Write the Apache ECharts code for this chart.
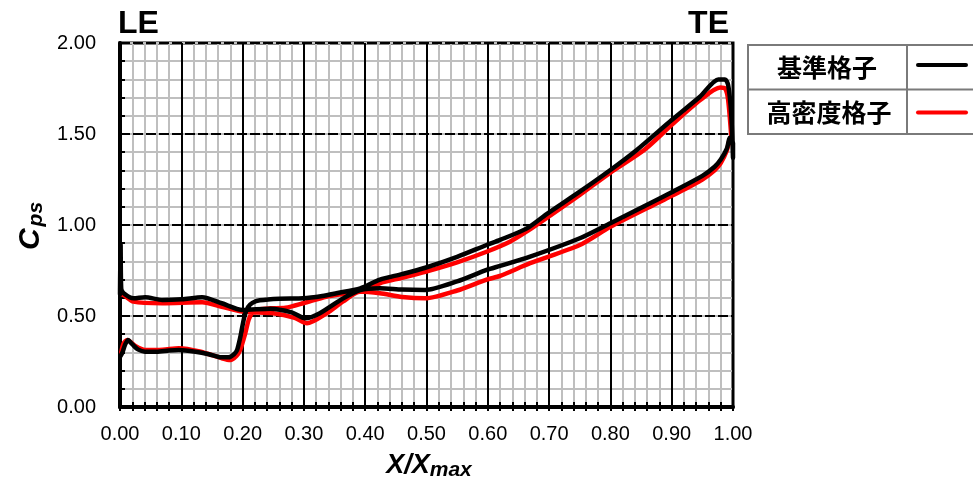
<!DOCTYPE html>
<html><head><meta charset="utf-8">
<script src="https://cdn.jsdelivr.net/npm/echarts@6/dist/echarts.min.js"></script>
<style>html,body{margin:0;padding:0;background:#fff}#c{width:973px;height:489px}</style>
</head><body><div id="c"></div>
<script>
// 基準格子 (baseline grid) — closed loop, from LE lower branch round TE and back
const baseX = [0.001,0.004,0.008,0.013,0.02,0.03,0.041,0.06,0.08,0.096,0.123,0.145,0.161,0.177,0.186,0.191,0.196,0.2,0.204,0.209,0.216,0.228,0.26,0.299,0.33,0.353,0.392,0.424,0.46,0.498,0.55,0.598,0.62,0.663,0.696,0.75,0.8,0.843,0.9,0.946,0.976,0.987,0.992,0.996,0.998,1.0,1.0,0.995,0.99,0.98,0.97,0.95,0.9,0.881,0.8,0.75,0.669,0.62,0.598,0.55,0.498,0.46,0.424,0.392,0.364,0.326,0.302,0.28,0.245,0.2,0.166,0.134,0.101,0.069,0.041,0.022,0.006,0.002,0.001,0.0];
const baseCp = [0.28,0.30,0.34,0.368,0.345,0.315,0.304,0.303,0.31,0.313,0.304,0.29,0.275,0.273,0.29,0.313,0.38,0.45,0.51,0.55,0.572,0.586,0.595,0.597,0.61,0.625,0.652,0.70,0.73,0.765,0.825,0.89,0.918,0.98,1.06,1.183,1.302,1.412,1.577,1.705,1.80,1.80,1.77,1.66,1.55,1.37,1.45,1.48,1.42,1.36,1.32,1.27,1.18,1.147,1.01,0.927,0.826,0.775,0.753,0.69,0.643,0.645,0.652,0.643,0.597,0.515,0.487,0.52,0.54,0.533,0.57,0.603,0.592,0.588,0.603,0.597,0.625,0.65,0.90,0.62];
// 高密度格子 (high-density grid)
const fineX = [0.002,0.006,0.012,0.025,0.041,0.07,0.096,0.13,0.166,0.18,0.19,0.196,0.204,0.21,0.216,0.226,0.245,0.27,0.299,0.336,0.36,0.392,0.424,0.46,0.498,0.55,0.598,0.636,0.663,0.701,0.75,0.8,0.855,0.9,0.946,0.979,0.987,0.992,0.998,0.995,0.99,0.98,0.97,0.95,0.9,0.881,0.8,0.75,0.669,0.62,0.598,0.55,0.498,0.46,0.424,0.392,0.364,0.337,0.305,0.285,0.25,0.2,0.166,0.134,0.069,0.022,0.006,0.002];
const fineCp = [0.30,0.35,0.368,0.335,0.313,0.315,0.323,0.305,0.268,0.258,0.28,0.313,0.40,0.48,0.52,0.536,0.542,0.545,0.57,0.606,0.62,0.634,0.68,0.71,0.743,0.795,0.853,0.908,0.963,1.05,1.165,1.288,1.412,1.55,1.685,1.755,1.75,1.69,1.45,1.47,1.41,1.34,1.30,1.25,1.16,1.128,0.99,0.89,0.79,0.72,0.70,0.64,0.597,0.605,0.625,0.634,0.58,0.515,0.46,0.49,0.515,0.524,0.551,0.575,0.57,0.579,0.615,0.62];

const xMajorTicks = [0,0.1,0.2,0.3,0.4,0.5,0.6,0.7,0.8,0.9,1.0];
const yMajorTicks = [0,0.5,1.0,1.5,2.0];
const seriesNames = ['基準格子','高密度格子'];

const zip = (xs, ys) => xs.map((x, i) => [x, ys[i]]);
const num = "'Liberation Sans', Arial, sans-serif";
const cjk = "'Noto Sans CJK JP', 'Noto Sans CJK SC', sans-serif";

const chart = echarts.init(document.getElementById('c'), null, {renderer: 'canvas'});
chart.setOption({
  animation: false,
  backgroundColor: '#fff',
  grid: {left: 120, right: 240, top: 43, bottom: 82, show: true, borderColor: '#000', borderWidth: 3, backgroundColor: 'transparent'},
  xAxis: [
    {type: 'value', min: 0, max: 1, interval: 0.1, position: 'bottom', z: 1,
     axisLine: {show: true, onZero: false, lineStyle: {color: '#000', width: 4}},
     axisTick: {show: true, inside: true, length: 7, lineStyle: {color: '#000', width: 2}},
     minorTick: {show: true, splitNumber: 5, length: 5, lineStyle: {color: '#000', width: 2}},
     axisLabel: {show: true, margin: 17, fontSize: 20, color: '#000', fontFamily: num,
                 formatter: v => v.toFixed(2), customValues: xMajorTicks},
     splitLine: {show: true, lineStyle: {color: '#000', width: 2}}},
    {type: 'value', min: 0, max: 1, interval: 0.02, position: 'bottom', z: 0,
     axisLine: {show: false, onZero: false},
     axisTick: {show: true, inside: false, length: 4, lineStyle: {color: '#000', width: 2}},
     axisLabel: {show: false},
     splitLine: {show: true, lineStyle: {color: '#bfbfbf', width: 2}}}
  ],
  yAxis: [
    {type: 'value', min: 0, max: 2, interval: 0.5, position: 'left', z: 1,
     axisLine: {show: true, onZero: false, lineStyle: {color: '#000', width: 4}},
     axisTick: {show: true, inside: true, length: 6, lineStyle: {color: '#000', width: 2}},
     minorTick: {show: true, splitNumber: 5, length: 5, lineStyle: {color: '#000', width: 2}},
     axisLabel: {show: true, margin: 24, fontSize: 20, color: '#000', fontFamily: num,
                 formatter: v => v.toFixed(2), customValues: yMajorTicks},
     splitLine: {show: true, lineStyle: {color: '#000', width: 2, type: [10, 3]}}},
    {type: 'value', min: 0, max: 2, interval: 0.1, position: 'right', z: 0,
     axisLine: {show: false, onZero: false}, axisTick: {show: false}, axisLabel: {show: false},
     splitLine: {show: true, lineStyle: {color: '#bfbfbf', width: 2}}}
  ],
  series: [
    {name: seriesNames[1], type: 'line', xAxisIndex: 0, yAxisIndex: 0, z: 3,
     data: zip(fineX, fineCp), showSymbol: false, smooth: 0.25, clip: false,
     lineStyle: {color: '#ff0000', width: 4.5, cap: 'round', join: 'round'}},
    {name: seriesNames[0], type: 'line', xAxisIndex: 0, yAxisIndex: 0, z: 4,
     data: zip(baseX, baseCp), showSymbol: false, smooth: 0.25, clip: false,
     lineStyle: {color: '#000000', width: 4.5, cap: 'round', join: 'round'}}
  ],
  graphic: [
    {type: 'text', left: 118, top: 8, z: 10, style: {text: 'LE', font: "bold 32px 'Liberation Sans', Arial", fill: '#000'}},
    {type: 'text', right: 244, top: 8, z: 10, style: {text: 'TE', font: "bold 32px 'Liberation Sans', Arial", fill: '#000'}},
    {type: 'text', x: 31, y: 226, rotation: Math.PI / 2, z: 10,
     style: {text: '{c|C}{s|ps}', align: 'center', verticalAlign: 'middle',
       rich: {c: {fontSize: 30, fontWeight: 'bold', fontStyle: 'italic', fontFamily: num, fill: '#000', lineHeight: 32},
              s: {fontSize: 21, fontWeight: 'bold', fontStyle: 'italic', fontFamily: num, fill: '#000', verticalAlign: 'bottom', padding: [10, 0, 0, 2]}}}},
    {type: 'text', x: 429, y: 466, z: 10,
     style: {text: '{x|X/X}{s|max}', align: 'center', verticalAlign: 'middle',
       rich: {x: {fontSize: 27, fontWeight: 'bold', fontStyle: 'italic', fontFamily: num, fill: '#000', lineHeight: 28},
              s: {fontSize: 21, fontWeight: 'bold', fontStyle: 'italic', fontFamily: num, fill: '#000', verticalAlign: 'bottom', padding: [8, 0, 0, 0]}}}},
    // legend table
    {type: 'rect', z: 10, shape: {x: 748, y: 45, width: 260, height: 89}, style: {fill: 'none', stroke: '#7a7a7a', lineWidth: 2}},
    {type: 'line', z: 10, shape: {x1: 748, y1: 89.5, x2: 980, y2: 89.5}, style: {stroke: '#7a7a7a', lineWidth: 2}},
    {type: 'line', z: 10, shape: {x1: 907, y1: 45, x2: 907, y2: 134}, style: {stroke: '#7a7a7a', lineWidth: 2}},
    {type: 'text', x: 827, y: 67, z: 11, style: {text: seriesNames[0], align: 'center', verticalAlign: 'middle', font: "bold 25px " + cjk, fill: '#000'}},
    {type: 'text', x: 829, y: 112, z: 11, style: {text: seriesNames[1], align: 'center', verticalAlign: 'middle', font: "bold 25px " + cjk, fill: '#000'}},
    {type: 'line', z: 11, shape: {x1: 918, y1: 65, x2: 966, y2: 65}, style: {stroke: '#000', lineWidth: 4, lineCap: 'round'}},
    {type: 'line', z: 11, shape: {x1: 918, y1: 112.5, x2: 966, y2: 112.5}, style: {stroke: '#ff0000', lineWidth: 4, lineCap: 'round'}}
  ]
});
</script></body></html>
